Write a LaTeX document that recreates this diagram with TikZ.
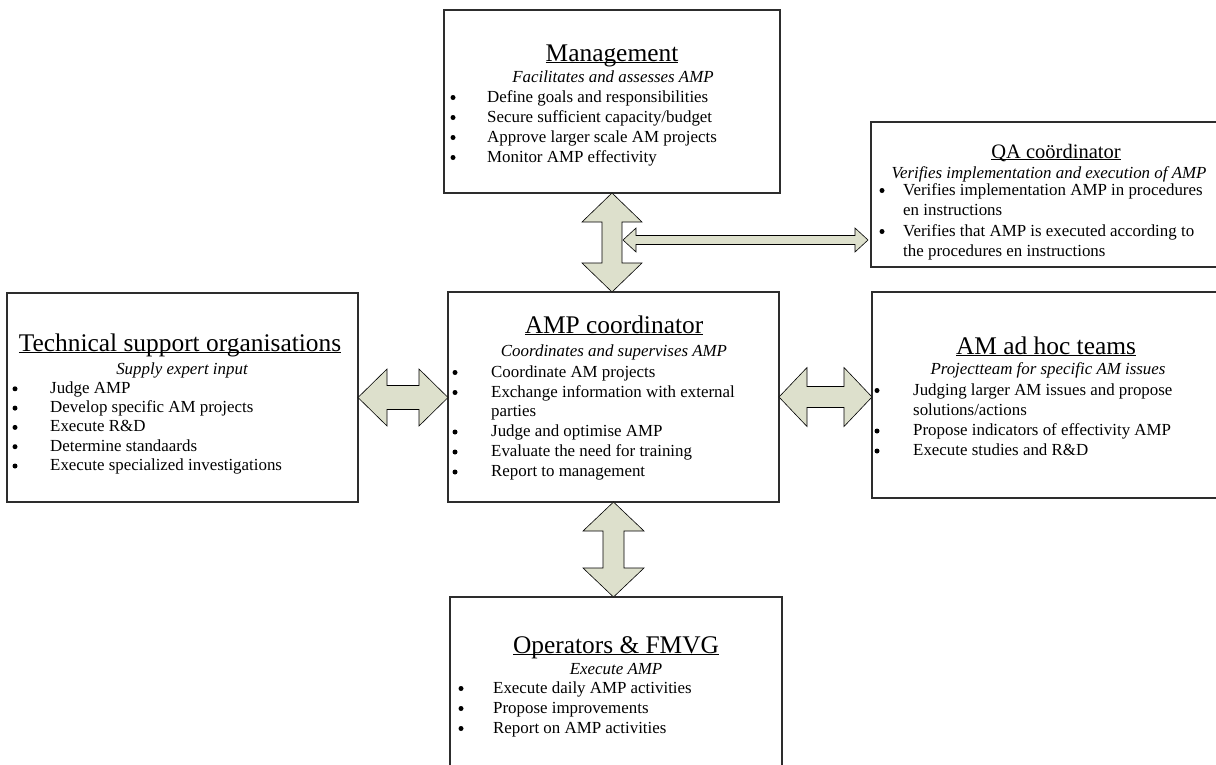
\documentclass[tikz,border=0pt]{standalone}
\usepackage{fontspec}
\setmainfont{Liberation Serif}
\usetikzlibrary{calc}

\definecolor{arrowfill}{RGB}{221,224,204}
\definecolor{boxline}{RGB}{45,45,45}

% title underline that runs through the descenders, word-processor style
\newcommand\titleul[1]{\setbox0=\hbox{#1}\rlap{\rule[-2.4pt]{\wd0}{1.1pt}}\box0}

% vertical double block arrow: #1 top tip, #2 bottom tip, #3 half shaft, #4 half head, #5 head length
\newcommand\vblockarrow[5]{%
  \draw[blk] let \p1=#1, \p2=#2 in
    (\x1,\y1) -- (\x1+#4,\y1-#5) -- (\x1+#3,\y1-#5) -- (\x1+#3,\y2+#5) -- (\x1+#4,\y2+#5)
    -- (\x1,\y2) -- (\x1-#4,\y2+#5) -- (\x1-#3,\y2+#5) -- (\x1-#3,\y1-#5) -- (\x1-#4,\y1-#5) -- cycle;}
% horizontal double block arrow: #1 left tip, #2 right tip, #3 half shaft, #4 half head, #5 head length
\newcommand\hblockarrow[5]{%
  \draw[blk] let \p1=#1, \p2=#2 in
    (\x1,\y1) -- (\x1+#5,\y1+#4) -- (\x1+#5,\y1+#3) -- (\x2-#5,\y1+#3) -- (\x2-#5,\y1+#4)
    -- (\x2,\y1) -- (\x2-#5,\y1-#4) -- (\x2-#5,\y1-#3) -- (\x1+#5,\y1-#3) -- (\x1+#5,\y1-#4) -- cycle;}

\tikzset{
  box/.style={draw=boxline, line width=1.1pt, fill=white, inner sep=0pt, outer sep=0pt},
  ttl/.style={anchor=base, inner sep=0pt, font=\fontsize{25.4}{30}\selectfont},
  sttl/.style={anchor=base, inner sep=0pt, font=\fontsize{20.5}{24}\selectfont},
  sub/.style={anchor=base, inner sep=0pt, font=\fontsize{16.9}{19.5}\selectfont\itshape},
  itm/.style={anchor=base west, inner sep=0pt, font=\fontsize{16.9}{19.5}\selectfont},
  % list bullet: a round dot sitting at mid x-height of the item's baseline
  bul/.style={circle, fill=black, inner sep=0pt, minimum size=5pt, yshift=4.5pt},
  blk/.style={draw=black, line width=0.6pt, fill=arrowfill, line join=miter},
}

\begin{document}
\begin{tikzpicture}[x=1pt, y=-1pt]
\useasboundingbox (0,0) rectangle (1216,764);
\clip (0,0) rectangle (1216,764);

% ---------- boxes ----------
\node[box, minimum width=336pt, minimum height=183pt] (mgmt)  at (612,101.5) {};
\node[box, minimum width=358pt, minimum height=145pt] (qa)    at (1050,194.5) {};
\node[box, minimum width=351pt, minimum height=209pt] (tech)  at (182.5,397.5) {};
\node[box, minimum width=331pt, minimum height=210pt] (amp)   at (613.5,397) {};
\node[box, minimum width=350pt, minimum height=206pt] (adhoc) at (1047,395) {};
\node[box, minimum width=332pt, minimum height=203pt] (ops)   at (616,698.5) {};

% ---------- block arrows ----------
\vblockarrow{(mgmt.south)}{(amp.north)}{10pt}{30pt}{29pt}
\vblockarrow{(amp.south)}{(ops.north)}{10.5pt}{30.5pt}{29pt}
\hblockarrow{(tech.east)}{(amp.west)}{12pt}{28.5pt}{29pt}
\hblockarrow{(amp.east)}{(adhoc.west)}{10.5pt}{29.5pt}{28pt}
\coordinate (join) at (623,240);
\coordinate (qa-in) at ($(qa.west|-join)+(-3pt,0)$);
\hblockarrow{(join)}{(qa-in)}{4.5pt}{12pt}{13pt}

% ---------- Management ----------
\node[ttl] (mg-t) at (612,61) {\titleul{Management}};
\node[sub] (mg-s) at (613,82.5) {Facilitates and assesses AMP};
\foreach \txt [count=\i] in {Define goals and responsibilities,
    Secure sufficient capacity/budget, Approve larger scale AM projects,
    Monitor AMP effectivity}{
  \node[bul] (mg-b\i) at (453,{82+20*\i}) {};
  \node[itm] (mg-i\i) at (487,{82+20*\i}) {\txt};
}

% ---------- QA coordinator ----------
\node[sttl] (qa-t) at (1056,158) {\titleul{QA coördinator}};
\node[sub] (qa-s) at (1049,178) {Verifies implementation and execution of AMP};
\node[bul] (qa-b1) at (882,195) {};
\node[itm] (qa-i1) at (903,195) {Verifies implementation AMP in procedures};
\node[itm] (qa-i1b) at (903,215) {en instructions};
\node[bul] (qa-b2) at (882,236) {};
\node[itm] (qa-i2) at (903,236) {Verifies that AMP is executed according to};
\node[itm] (qa-i2b) at (903,256) {the procedures en instructions};

% ---------- Technical support organisations ----------
\node[ttl] (te-t) at (180,351) {\titleul{Technical support organisations}};
\node[sub] (te-s) at (182,374) {Supply expert input};
\foreach \txt [count=\i] in {Judge AMP, Develop specific AM projects,
    Execute R\&D, Determine standaards, Execute specialized investigations}{
  \node[bul] (te-b\i) at (15,{374+19.3*\i}) {};
  \node[itm] (te-i\i) at (50,{374+19.3*\i}) {\txt};
}

% ---------- AMP coordinator ----------
\node[ttl] (am-t) at (614,333) {\titleul{AMP coordinator}};
\node[sub] (am-s) at (614,356) {Coordinates and supervises AMP};
\node[bul] (am-b1) at (455,377) {};
\node[itm] (am-i1) at (491,377) {Coordinate AM projects};
\node[bul] (am-b2) at (455,397) {};
\node[itm] (am-i2) at (491,397) {Exchange information with external};
\node[itm] (am-i2b) at (491,416.5) {parties};
\node[bul] (am-b3) at (455,436.5) {};
\node[itm] (am-i3) at (491,436.5) {Judge and optimise AMP};
\node[bul] (am-b4) at (455,456.5) {};
\node[itm] (am-i4) at (491,456.5) {Evaluate the need for training};
\node[bul] (am-b5) at (455,476.5) {};
\node[itm] (am-i5) at (491,476.5) {Report to management};

% ---------- AM ad hoc teams ----------
\node[ttl] (ah-t) at (1046,354) {\titleul{AM ad hoc teams}};
\node[sub] (ah-s) at (1048,374) {Projectteam for specific AM issues};
\node[bul] (ah-b1) at (877,395) {};
\node[itm] (ah-i1) at (913,395) {Judging larger AM issues and propose};
\node[itm] (ah-i1b) at (913,415) {solutions/actions};
\node[bul] (ah-b2) at (877,435.5) {};
\node[itm] (ah-i2) at (913,435.5) {Propose indicators of effectivity AMP};
\node[bul] (ah-b3) at (877,455.5) {};
\node[itm] (ah-i3) at (913,455.5) {Execute studies and R\&D};

% ---------- Operators & FMVG ----------
\node[ttl] (op-t) at (616,653) {\titleul{Operators \& FMVG}};
\node[sub] (op-s) at (616,674) {Execute AMP};
\foreach \txt [count=\i] in {Execute daily AMP activities, Propose improvements,
    Report on AMP activities}{
  \node[bul] (op-b\i) at (461,{673+20*\i}) {};
  \node[itm] (op-i\i) at (493,{673+20*\i}) {\txt};
}
\end{tikzpicture}
\end{document}
